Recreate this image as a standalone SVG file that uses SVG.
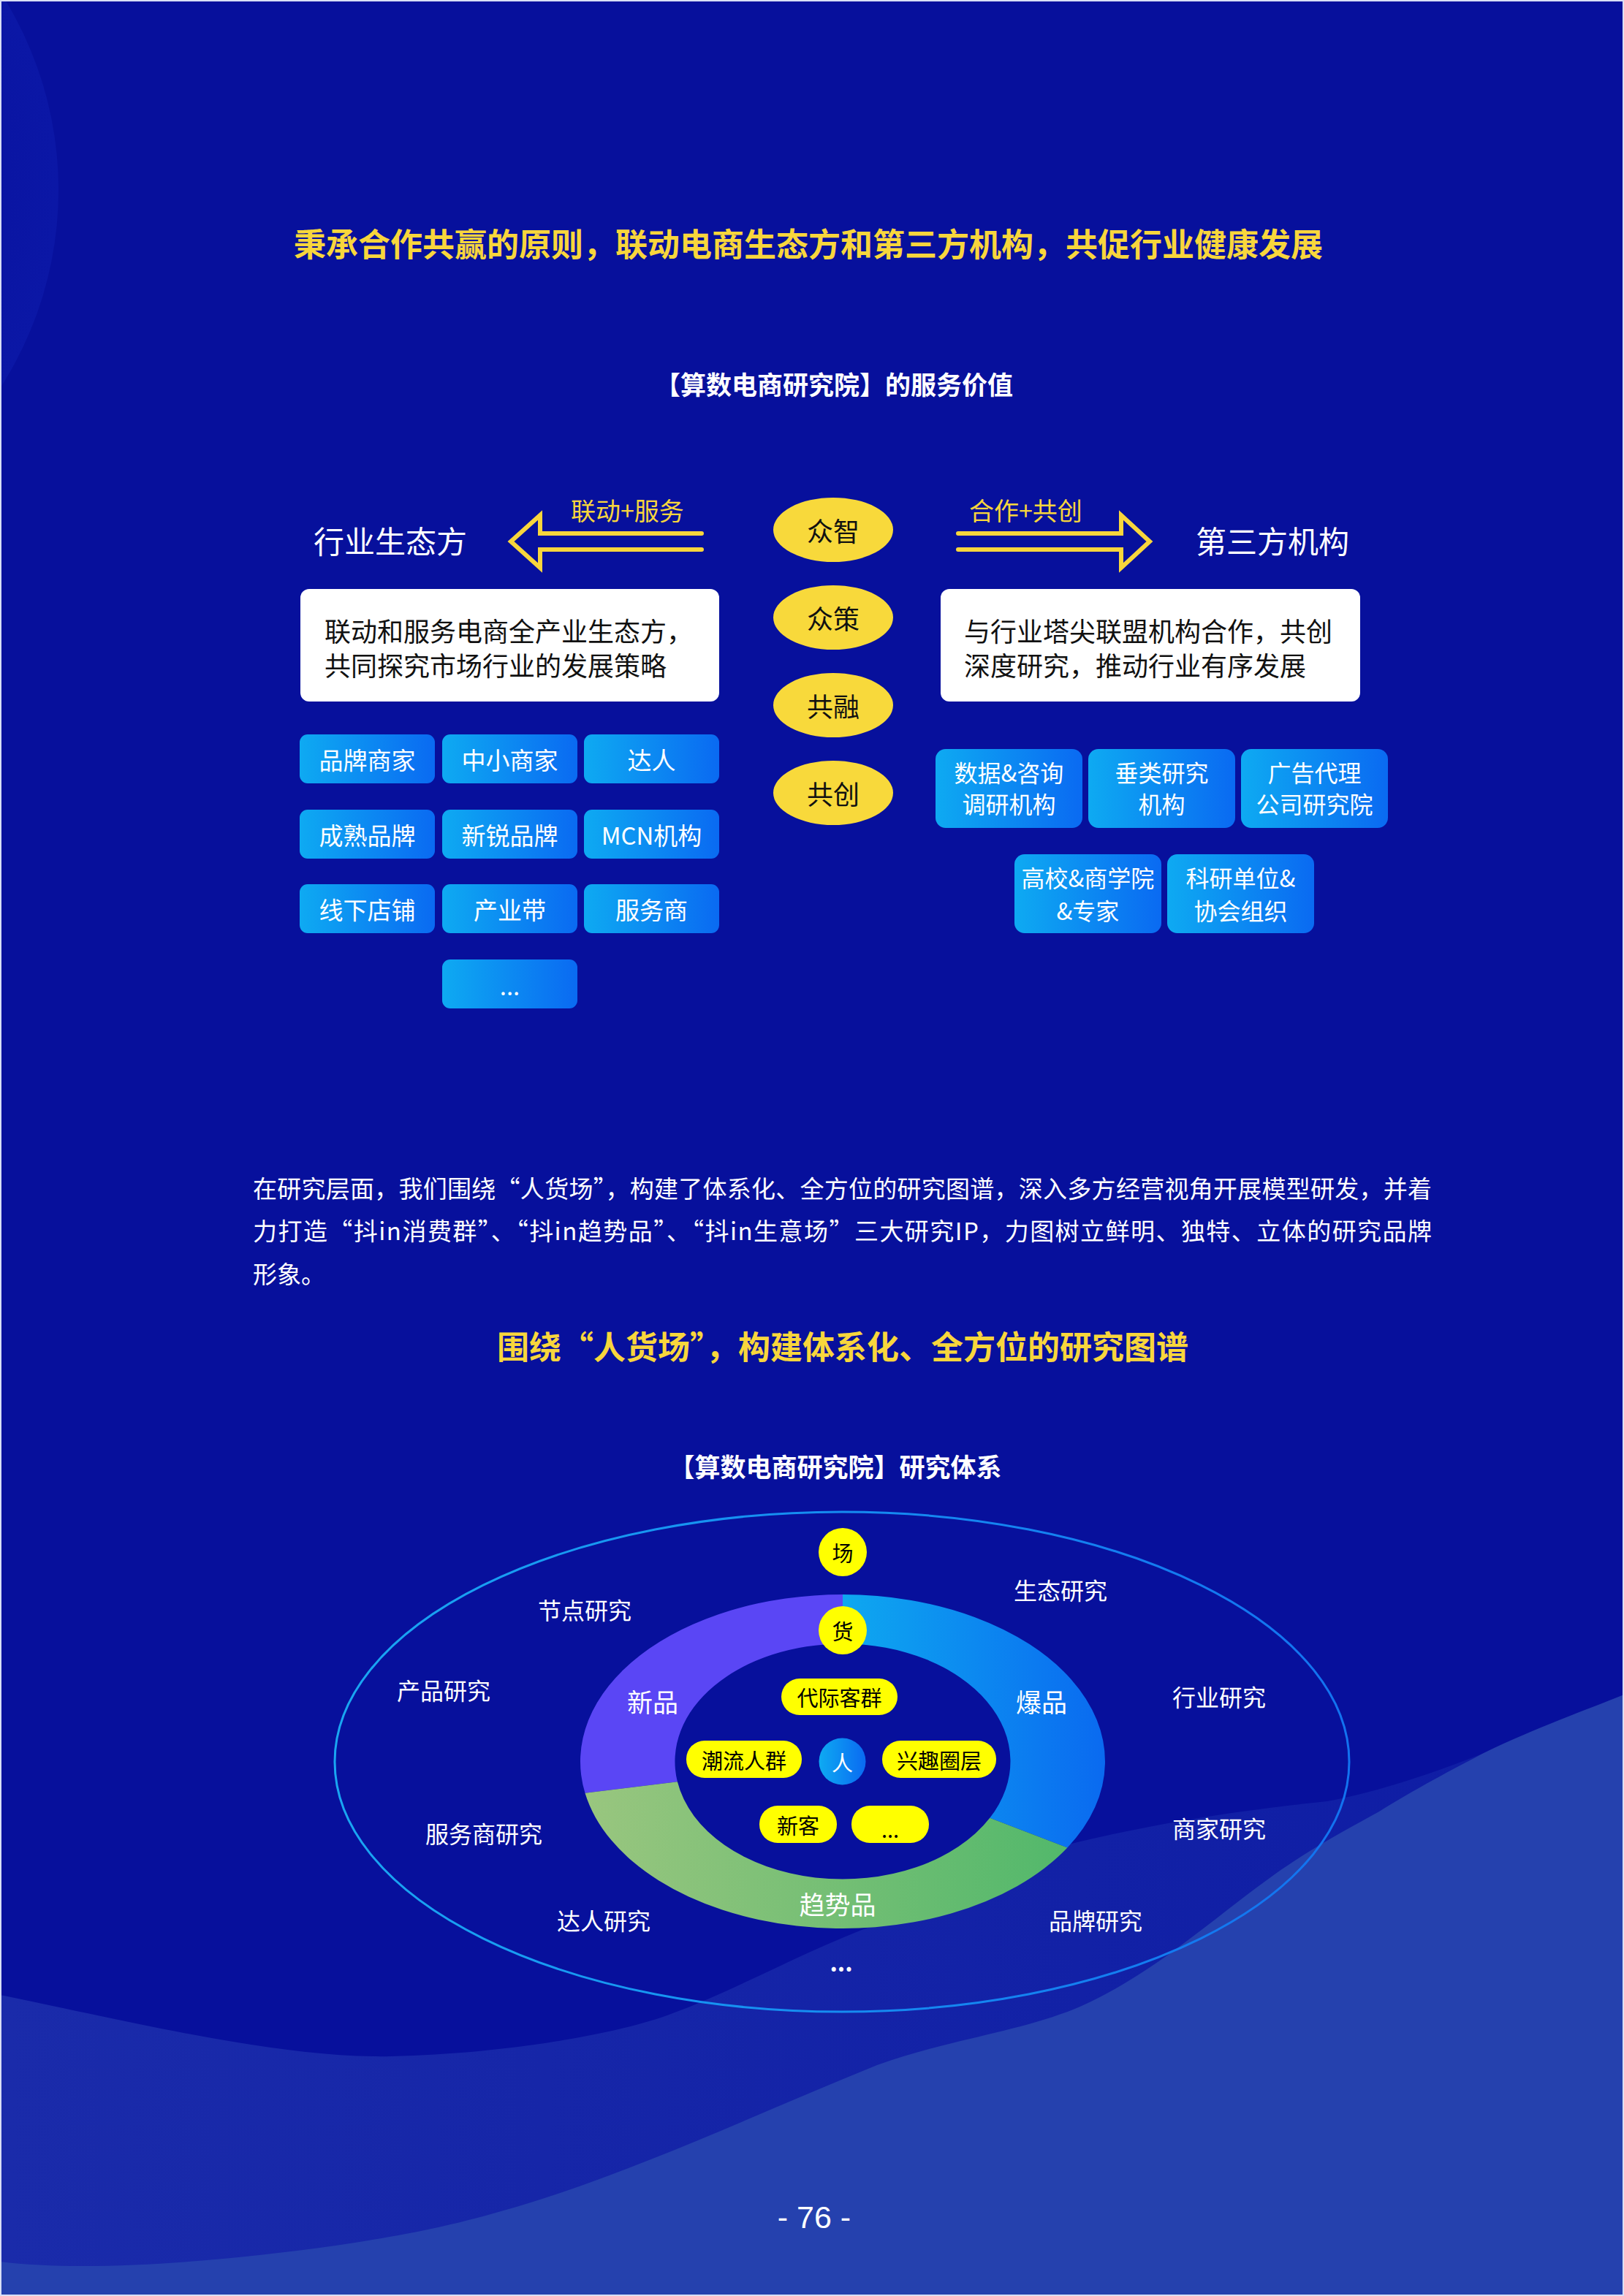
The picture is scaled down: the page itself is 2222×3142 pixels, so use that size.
<svg xmlns="http://www.w3.org/2000/svg" width="2222" height="3142" viewBox="0 0 2222 3142">
<defs>
<style>
text{font-family:"Noto Sans CJK SC","Noto Sans",sans-serif;}
.ttl{fill:#F8D63C;font-weight:700;font-size:44px;text-anchor:middle;dominant-baseline:central;}
.sub{fill:#FFFFFF;font-weight:700;font-size:35px;text-anchor:middle;dominant-baseline:central;}
.side{fill:#FFFFFF;font-size:42px;dominant-baseline:central;}
.arrl{fill:#F8D63C;font-size:34px;dominant-baseline:central;}
.arrow{fill:none;stroke:#F8D63C;stroke-width:6;stroke-linecap:round;stroke-linejoin:miter;}
.yel{fill:#F8D93B;}
.ytx{fill:#111111;font-size:36px;text-anchor:middle;dominant-baseline:central;}
.wbox{fill:#FFFFFF;}
.btx{fill:#111111;font-size:36px;dominant-baseline:central;}
.bbox{fill:url(#boxg);}
.bt{fill:#FFFFFF;font-size:33px;text-anchor:middle;dominant-baseline:central;}
.bt2{fill:#FFFFFF;font-size:32px;text-anchor:middle;dominant-baseline:central;}
.para{fill:#FFFFFF;font-size:33px;dominant-baseline:central;}
.lbl{fill:#FFFFFF;font-size:32px;text-anchor:middle;dominant-baseline:central;}
.seg{fill:#FFFFFF;font-size:35px;text-anchor:middle;dominant-baseline:central;}
.pill{fill:#FFFF00;}
.ptx{fill:#000000;font-size:29px;text-anchor:middle;dominant-baseline:central;}
</style>
<linearGradient id="boxg" x1="0" y1="0" x2="1" y2="0">
<stop offset="0" stop-color="#0EAAF2"/>
<stop offset="1" stop-color="#0A6AF2"/>
</linearGradient>
<linearGradient id="blueseg" gradientUnits="userSpaceOnUse" x1="1153" y1="0" x2="1512" y2="0">
<stop offset="0" stop-color="#0EA8F0"/>
<stop offset="1" stop-color="#0A6AF0"/>
</linearGradient>
<linearGradient id="greenseg" gradientUnits="userSpaceOnUse" x1="793" y1="0" x2="1460" y2="0">
<stop offset="0" stop-color="#9AC67F"/>
<stop offset="1" stop-color="#52B86B"/>
</linearGradient>
<linearGradient id="ringstroke" gradientUnits="userSpaceOnUse" x1="457" y1="0" x2="1847" y2="0">
<stop offset="0" stop-color="#19A6F2"/>
<stop offset="1" stop-color="#1272F0"/>
</linearGradient>
<linearGradient id="mid" x1="0" y1="0" x2="1" y2="0">
<stop offset="0" stop-color="#1A2BAA"/>
<stop offset="1" stop-color="#0E1CA4"/>
</linearGradient>
<radialGradient id="tl" cx="0.5" cy="0.5" r="0.5">
<stop offset="0.6" stop-color="#08119E"/>
<stop offset="1" stop-color="#0B17A6"/>
</radialGradient>
</defs>

<!-- background -->
<rect x="0" y="0" width="2222" height="3142" fill="#07109C"/>
<circle cx="-420" cy="260" r="500" fill="url(#tl)"/>
<path d="M0,2730 C150,2760 380,2818 536,2814 C700,2810 850,2782 918,2756 C1010,2722 1100,2670 1200,2633 C1300,2595 1380,2545 1458,2525 C1600,2490 1720,2475 1816,2465 C1950,2440 2100,2370 2222,2319 L2222,3142 L0,3142 Z" fill="url(#mid)"/>
<path d="M0,3095 C120,3110 300,3095 459,3073 C560,3058 620,3045 689,3025 C850,2980 1030,2895 1200,2826 C1300,2790 1400,2780 1480,2745 C1580,2700 1660,2625 1744,2565 C1800,2525 1850,2500 1887,2479 C1950,2440 2000,2415 2030,2399 C2100,2365 2170,2340 2222,2319 L2222,3142 L0,3142 Z" fill="#2541AE"/>
<rect x="1" y="1" width="2220" height="3140" fill="none" stroke="#D8DEF5" stroke-width="2"/>

<!-- headings -->
<g id="title1"><text class="ttl" x="1106" y="332">秉承合作共赢的原则，联动电商生态方和第三方机构，共促行业健康发展</text></g>
<g id="subtitle1"><text class="sub" x="1141" y="524">【算数电商研究院】的服务价值</text></g>

<g id="side-left"><text class="side" x="429" y="738">行业生态方</text></g>
<g id="side-right"><text class="side" x="1636" y="738">第三方机构</text></g>

<!-- connectors -->
<g id="connectors">
<path class="arrow" d="M960,730 L739,730 L739,705 L699,741 L739,777 L739,752 L960,752"/>
<path class="arrow" d="M1311,730 L1534,730 L1534,705 L1573,741 L1534,777 L1534,752 L1311,752"/>
<text class="arrl" x="781" y="697">联动+服务</text>
<text class="arrl" x="1326" y="697">合作+共创</text>
</g>

<!-- center ellipses -->
<g id="n-zhongzhi"><ellipse class="yel" cx="1140" cy="725" rx="82" ry="44"/><text class="ytx" x="1140" y="725">众智</text></g>
<g id="n-zhongce"><ellipse class="yel" cx="1140" cy="845" rx="82" ry="44"/><text class="ytx" x="1140" y="845">众策</text></g>
<g id="n-gongrong"><ellipse class="yel" cx="1140" cy="965" rx="82" ry="44"/><text class="ytx" x="1140" y="965">共融</text></g>
<g id="n-gongchuang"><ellipse class="yel" cx="1140" cy="1085" rx="82" ry="44"/><text class="ytx" x="1140" y="1085">共创</text></g>

<!-- white boxes -->
<g id="box-left"><rect class="wbox" x="411" y="806" width="573" height="154" rx="12"/>
<text class="btx" x="444" y="862">联动和服务电商全产业生态方，</text>
<text class="btx" x="444" y="909">共同探究市场行业的发展策略</text></g>
<g id="box-right"><rect class="wbox" x="1287" y="806" width="574" height="154" rx="12"/>
<text class="btx" x="1319" y="862">与行业塔尖联盟机构合作，共创</text>
<text class="btx" x="1319" y="909">深度研究，推动行业有序发展</text></g>

<!-- left blue boxes -->
<g id="l1"><rect class="bbox" x="410" y="1005" width="185" height="67" rx="11"/><text class="bt" x="502.5" y="1038.5">品牌商家</text></g>
<g id="l2"><rect class="bbox" x="605" y="1005" width="185" height="67" rx="11"/><text class="bt" x="697.5" y="1038.5">中小商家</text></g>
<g id="l3"><rect class="bbox" x="799" y="1005" width="185" height="67" rx="11"/><text class="bt" x="891.5" y="1038.5">达人</text></g>
<g id="l4"><rect class="bbox" x="410" y="1108" width="185" height="67" rx="11"/><text class="bt" x="502.5" y="1141.5">成熟品牌</text></g>
<g id="l5"><rect class="bbox" x="605" y="1108" width="185" height="67" rx="11"/><text class="bt" x="697.5" y="1141.5">新锐品牌</text></g>
<g id="l6"><rect class="bbox" x="799" y="1108" width="185" height="67" rx="11"/><text class="bt" x="891.5" y="1141.5">MCN机构</text></g>
<g id="l7"><rect class="bbox" x="410" y="1210" width="185" height="67" rx="11"/><text class="bt" x="502.5" y="1243.5">线下店铺</text></g>
<g id="l8"><rect class="bbox" x="605" y="1210" width="185" height="67" rx="11"/><text class="bt" x="697.5" y="1243.5">产业带</text></g>
<g id="l9"><rect class="bbox" x="799" y="1210" width="185" height="67" rx="11"/><text class="bt" x="891.5" y="1243.5">服务商</text></g>
<g id="l10"><rect class="bbox" x="605" y="1313" width="185" height="67" rx="11"/><text class="bt" x="697.5" y="1348">...</text></g>

<!-- right blue boxes -->
<g id="r1"><rect class="bbox" x="1280" y="1025" width="201" height="108" rx="14"/><text class="bt2" x="1380.5" y="1056">数据&amp;咨询</text><text class="bt2" x="1380.5" y="1099">调研机构</text></g>
<g id="r2"><rect class="bbox" x="1489" y="1025" width="201" height="108" rx="14"/><text class="bt2" x="1589.5" y="1056">垂类研究</text><text class="bt2" x="1589.5" y="1099">机构</text></g>
<g id="r3"><rect class="bbox" x="1698" y="1025" width="201" height="108" rx="14"/><text class="bt2" x="1798.5" y="1056">广告代理</text><text class="bt2" x="1798.5" y="1099">公司研究院</text></g>
<g id="r4"><rect class="bbox" x="1388" y="1169" width="201" height="108" rx="14"/><text class="bt2" x="1488.5" y="1200">高校&amp;商学院</text><text class="bt2" x="1488.5" y="1245">&amp;专家</text></g>
<g id="r5"><rect class="bbox" x="1597" y="1169" width="201" height="108" rx="14"/><text class="bt2" x="1697.5" y="1200">科研单位&amp;</text><text class="bt2" x="1697.5" y="1245">协会组织</text></g>

<!-- paragraph -->
<g id="paragraph">
<text class="para" x="346" y="1625" textLength="1613" lengthAdjust="spacing">在研究层面，我们围绕“人货场”，构建了体系化、全方位的研究图谱，深入多方经营视角开展模型研发，并着</text>
<text class="para" x="346" y="1683" textLength="1613" lengthAdjust="spacing">力打造“抖in消费群”、“抖in趋势品”、“抖in生意场”三大研究IP，力图树立鲜明、独特、立体的研究品牌</text>
<text class="para" x="346" y="1742">形象。</text>
</g>

<g id="title2"><text class="ttl" x="1153" y="1841">围绕“人货场”，构建体系化、全方位的研究图谱</text></g>
<g id="subtitle2"><text class="sub" x="1143" y="2005">【算数电商研究院】研究体系</text></g>

<!-- research system diagram -->
<g id="outer-ring"><ellipse cx="1152" cy="2411" rx="694" ry="342" fill="none" stroke="url(#ringstroke)" stroke-width="3"/></g>

<g id="seg-xinpin"><path d="M1153,2182 A359,228.5 0 0 0 800.5,2453.8 L926.9,2438.3 A229.5,161 0 0 1 1153,2249.5 Z" fill="#5A46F5"/><text class="seg" x="893" y="2327">新品</text></g>
<g id="seg-baopin"><path d="M1153,2182 A359,228.5 0 0 1 1460.4,2528.5 L1354.3,2487.8 A229.5,161 0 0 0 1153,2249.5 Z" fill="url(#blueseg)"/><text class="seg" x="1425" y="2327">爆品</text></g>
<g id="seg-qushipin"><path d="M1460.4,2528.5 A359,228.5 0 0 1 800.5,2453.8 L926.9,2438.3 A229.5,161 0 0 0 1354.3,2487.8 Z" fill="url(#greenseg)"/><text class="seg" x="1146" y="2604">趋势品</text></g>

<g id="n-chang"><circle cx="1153" cy="2124" r="33" fill="#FFFF00"/><text class="ptx" x="1153" y="2124">场</text></g>
<g id="n-huo"><circle cx="1153" cy="2231" r="33" fill="#FFFF00"/><text class="ptx" x="1153" y="2231">货</text></g>
<g id="n-ren"><circle cx="1152.5" cy="2410.5" r="32" fill="url(#boxg)"/><text class="ptx" x="1152.5" y="2410.5" style="fill:#FFFFFF">人</text></g>

<g id="p1"><rect class="pill" x="1069" y="2297" width="159" height="50" rx="25"/><text class="ptx" x="1148.5" y="2322">代际客群</text></g>
<g id="p2"><rect class="pill" x="939" y="2382" width="158" height="51" rx="25"/><text class="ptx" x="1018" y="2407.5">潮流人群</text></g>
<g id="p3"><rect class="pill" x="1207" y="2382" width="156" height="51" rx="25"/><text class="ptx" x="1285" y="2407.5">兴趣圈层</text></g>
<g id="p4"><rect class="pill" x="1039" y="2471" width="106" height="51" rx="25"/><text class="ptx" x="1092" y="2496.5">新客</text></g>
<g id="p5"><rect class="pill" x="1165" y="2471" width="106" height="51" rx="25"/><text class="ptx" x="1218" y="2502">...</text></g>

<g id="lb1"><text class="lbl" x="800" y="2202">节点研究</text></g>
<g id="lb2"><text class="lbl" x="1451" y="2175">生态研究</text></g>
<g id="lb3"><text class="lbl" x="607" y="2312">产品研究</text></g>
<g id="lb4"><text class="lbl" x="1668" y="2321">行业研究</text></g>
<g id="lb5"><text class="lbl" x="662" y="2508">服务商研究</text></g>
<g id="lb6"><text class="lbl" x="1668" y="2501">商家研究</text></g>
<g id="lb7"><text class="lbl" x="826" y="2627">达人研究</text></g>
<g id="lb8"><text class="lbl" x="1499" y="2627">品牌研究</text></g>
<g id="lb9"><text class="lbl" x="1151" y="2684" style="font-weight:700">...</text></g>

<g id="page"><text x="1114" y="3049" style="font-family:'Liberation Sans',Arial,sans-serif;font-size:43px;fill:#FFFFFF;text-anchor:middle">- 76 -</text></g>
</svg>
